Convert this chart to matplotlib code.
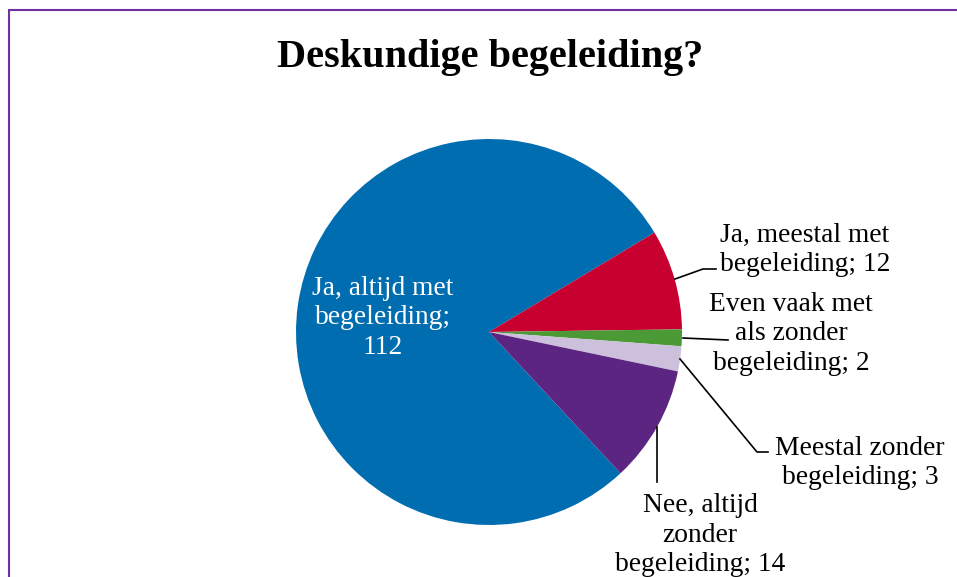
import matplotlib.pyplot as plt
from matplotlib.patches import Rectangle

# data
labels = ["Ja, altijd met\nbegeleiding;\n112",
          "Ja, meestal met\nbegeleiding; 12",
          "Even vaak met\nals zonder\nbegeleiding; 2",
          "Meestal zonder\nbegeleiding; 3",
          "Nee, altijd\nzonder\nbegeleiding; 14"]
values = [112, 12, 2, 3, 14]
colors = ["#006DB0", "#C8002F", "#4B9A35", "#CDC0DD", "#5C2582"]

W, H = 957, 577
fig = plt.figure(figsize=(W / 100, H / 100), dpi=100)
ax = fig.add_axes([0, 0, 1, 1])

cx, cy, r = 489, H - 332, 193
# first slice starts so the red one begins at ~31 degrees
start = 31 + 360 * values[0] / sum(values)
ax.pie(values, colors=colors, startangle=start, counterclock=False,
       center=(cx, cy), radius=r, wedgeprops=dict(linewidth=0))

ax.set_xlim(0, W)
ax.set_ylim(0, H)
ax.set_aspect("equal")
ax.axis("off")

# purple frame (runs off right and bottom edges)
ax.add_patch(Rectangle((9, -20), W + 20, H - 10 + 20, fill=False,
                       edgecolor="#7030A0", linewidth=1.5, clip_on=False))

font = "Liberation Serif"
ax.text(490, H - 57, "Deskundige begeleiding?", ha="center", va="center",
        fontsize=29, fontweight="bold", family=font)

# label positions (pixel coords, y from top) and leader lines
pos = [(383, 318), (805, 250), (791, 334), (860, 463), (700, 535)]
leaders = [None,
           [(675, 279), (703, 269), (716, 269)],
           [(683, 338), (728, 340)],
           [(680, 359), (757, 452), (768, 452)],
           [(657, 427), (657, 482)]]

for i, lab in enumerate(labels):
    x, y = pos[i]
    ax.text(x, H - y, lab, ha="center", va="center", fontsize=19.8,
            family=font, linespacing=1.26,
            color="white" if i == 0 else "black")
    if leaders[i]:
        xs = [p[0] for p in leaders[i]]
        ys = [H - p[1] for p in leaders[i]]
        ax.plot(xs, ys, color="black", lw=1.2)

fig.savefig("out.png", dpi=100)
